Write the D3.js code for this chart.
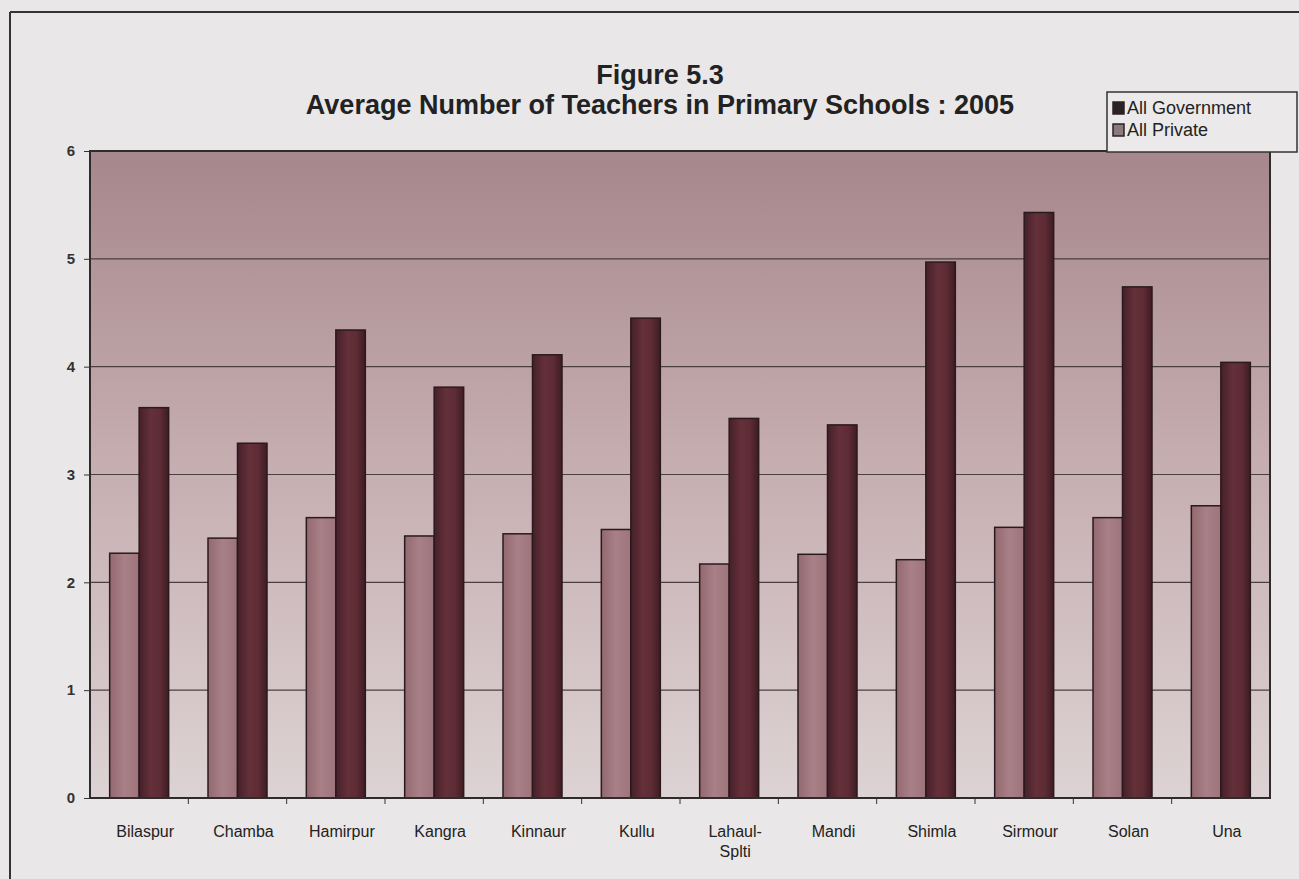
<!DOCTYPE html>
<html>
<head>
<meta charset="utf-8">
<script src="https://cdn.jsdelivr.net/npm/d3@7"></script>
<style>
  body { margin: 0; background: #e9e7e7; }
  svg { display: block; font-family: "Liberation Sans", Arial, sans-serif; }
</style>
</head>
<body>
<script>
// districts on the x axis
let districts = ["Bilaspur", "Chamba", "Hamirpur", "Kangra", "Kinnaur", "Kullu",
    "Lahaul-Splti", "Mandi", "Shimla", "Sirmour", "Solan", "Una"];

let seriesNames = ["All Private", "All Government"];

let privateValues = [2.27, 2.41, 2.60, 2.43, 2.45, 2.49, 2.17, 2.26, 2.21, 2.51, 2.60, 2.71];
let governmentValues = [3.62, 3.29, 4.34, 3.81, 4.11, 4.45, 3.52, 3.46, 4.97, 5.43, 4.74, 4.04];

let yTicks = [0, 1, 2, 3, 4, 5, 6];

function main() {
    let svg = d3.select("body").append("svg")
        .attr("width", 1299)
        .attr("height", 879);

    let defs = svg.append("defs");

    let bg = defs.append("linearGradient").attr("id", "plotBg")
        .attr("x1", 0).attr("y1", 0).attr("x2", 0).attr("y2", 1);
    bg.append("stop").attr("offset", "0%").attr("stop-color", "#a6878b");
    bg.append("stop").attr("offset", "45%").attr("stop-color", "#c4abae");
    bg.append("stop").attr("offset", "100%").attr("stop-color", "#ddd3d4");

    let govGrad = defs.append("linearGradient").attr("id", "govFill")
        .attr("x1", 0).attr("y1", 0).attr("x2", 1).attr("y2", 0);
    govGrad.append("stop").attr("offset", "0%").attr("stop-color", "#45202a");
    govGrad.append("stop").attr("offset", "40%").attr("stop-color", "#643039");
    govGrad.append("stop").attr("offset", "70%").attr("stop-color", "#5e2c35");
    govGrad.append("stop").attr("offset", "100%").attr("stop-color", "#3e1c23");

    let privGrad = defs.append("linearGradient").attr("id", "privFill")
        .attr("x1", 0).attr("y1", 0).attr("x2", 1).attr("y2", 0);
    privGrad.append("stop").attr("offset", "0%").attr("stop-color", "#93696f");
    privGrad.append("stop").attr("offset", "50%").attr("stop-color", "#a88087");
    privGrad.append("stop").attr("offset", "100%").attr("stop-color", "#9d747a");

    let left = 90, right = 1270, top = 151, bottom = 798;

    // outer frame of the figure
    svg.append("line").attr("x1", 10).attr("y1", 12).attr("x2", 10).attr("y2", 879)
        .attr("stroke", "#333").attr("stroke-width", 2);
    svg.append("line").attr("x1", 10).attr("y1", 12).attr("x2", 1299).attr("y2", 12)
        .attr("stroke", "#333").attr("stroke-width", 2);

    let xScale = d3.scaleBand().domain(districts).range([left, right])
        .paddingInner(0.4).paddingOuter(0.2);
    let xOuter = d3.scaleBand().domain(districts).range([left, right]);
    let xSub = d3.scaleBand().domain(seriesNames).range([0, xScale.bandwidth()]);
    let yScale = d3.scaleLinear().domain([0, 6]).range([bottom, top]);

    svg.append("rect")
        .attr("x", left).attr("y", top)
        .attr("width", right - left).attr("height", bottom - top)
        .attr("fill", "url(#plotBg)");

    // gridlines
    svg.append("g").selectAll("line")
        .data(yTicks.filter(d => d > 0 && d < 6))
        .enter().append("line")
        .attr("x1", left).attr("x2", right)
        .attr("y1", d => yScale(d)).attr("y2", d => yScale(d))
        .attr("stroke", "#4a4042").attr("stroke-width", 1.2);

    let rows = districts.map((d, i) => ({
        district: d,
        values: [
            { name: "All Private", value: privateValues[i] },
            { name: "All Government", value: governmentValues[i] }
        ]
    }));

    let groups = svg.append("g").selectAll("g")
        .data(rows)
        .enter().append("g")
        .attr("transform", d => `translate(${xScale(d.district)},0)`);

    groups.selectAll("rect")
        .data(d => d.values)
        .enter().append("rect")
        .attr("x", d => xSub(d.name))
        .attr("y", d => yScale(d.value))
        .attr("width", xSub.bandwidth())
        .attr("height", d => yScale(0) - yScale(d.value))
        .attr("fill", d => d.name == "All Government" ? "url(#govFill)" : "url(#privFill)")
        .attr("stroke", "#2b1a1d")
        .attr("stroke-width", 1.5);

    // plot border
    svg.append("rect")
        .attr("x", left).attr("y", top)
        .attr("width", right - left).attr("height", bottom - top)
        .attr("fill", "none").attr("stroke", "#2f2a2b").attr("stroke-width", 2);

    let yAxis = d3.axisLeft(yScale).tickValues(yTicks).tickSize(6).tickPadding(9)
        .tickFormat(d3.format("d"));
    let yg = svg.append("g")
        .attr("transform", `translate(${left},0)`)
        .call(yAxis);
    yg.select(".domain").remove();
    yg.selectAll("line").attr("stroke", "#333");
    yg.selectAll("text").style("font-size", "15px").style("font-weight", "bold")
        .attr("fill", "#333");

    // category separators on the x axis
    svg.append("g").selectAll("line")
        .data(districts.slice(1))
        .enter().append("line")
        .attr("x1", d => xOuter(d)).attr("x2", d => xOuter(d))
        .attr("y1", bottom).attr("y2", bottom + 6)
        .attr("stroke", "#333");

    let labels = svg.append("g").selectAll("text")
        .data(districts)
        .enter().append("text")
        .attr("x", d => xScale(d) + xScale.bandwidth() / 2 + 6)
        .attr("y", 837)
        .attr("text-anchor", "middle")
        .style("font-size", "16px")
        .attr("fill", "#222");
    labels.each(function(d) {
        let parts = d.split("-");
        let t = d3.select(this);
        if (parts.length > 1) {
            t.append("tspan").attr("x", t.attr("x")).text(parts[0] + "-");
            t.append("tspan").attr("x", t.attr("x")).attr("dy", 20).text(parts[1]);
        } else {
            t.text(d);
        }
    });

    let title = svg.append("text")
        .attr("text-anchor", "middle")
        .style("font-size", "27px").style("font-weight", "bold")
        .attr("fill", "#222");
    title.append("tspan").attr("x", 660).attr("y", 84).text("Figure 5.3");
    title.append("tspan").attr("x", 660).attr("y", 114)
        .text("Average Number of Teachers in Primary Schools : 2005");

    // legend
    let legend = svg.append("g").attr("transform", "translate(1107,92)");
    legend.append("rect")
        .attr("width", 190).attr("height", 60)
        .attr("fill", "#ebe9e9").attr("stroke", "#333").attr("stroke-width", 1.5);
    let legendItems = [
        { name: "All Government", fill: "#2a2224", stroke: "#2a2224" },
        { name: "All Private", fill: "#8a7a7c", stroke: "#2a2224" }
    ];
    let li = legend.selectAll("g.item")
        .data(legendItems)
        .enter().append("g")
        .attr("class", "item")
        .attr("transform", (d, i) => `translate(6,${10 + i * 22})`);
    li.append("rect")
        .attr("width", 11).attr("height", 12)
        .attr("fill", d => d.fill).attr("stroke", d => d.stroke).attr("stroke-width", 1.5);
    li.append("text")
        .attr("x", 14).attr("y", 12)
        .style("font-size", "18px")
        .attr("fill", "#222")
        .text(d => d.name);
}

main()
</script>
</body>
</html>
